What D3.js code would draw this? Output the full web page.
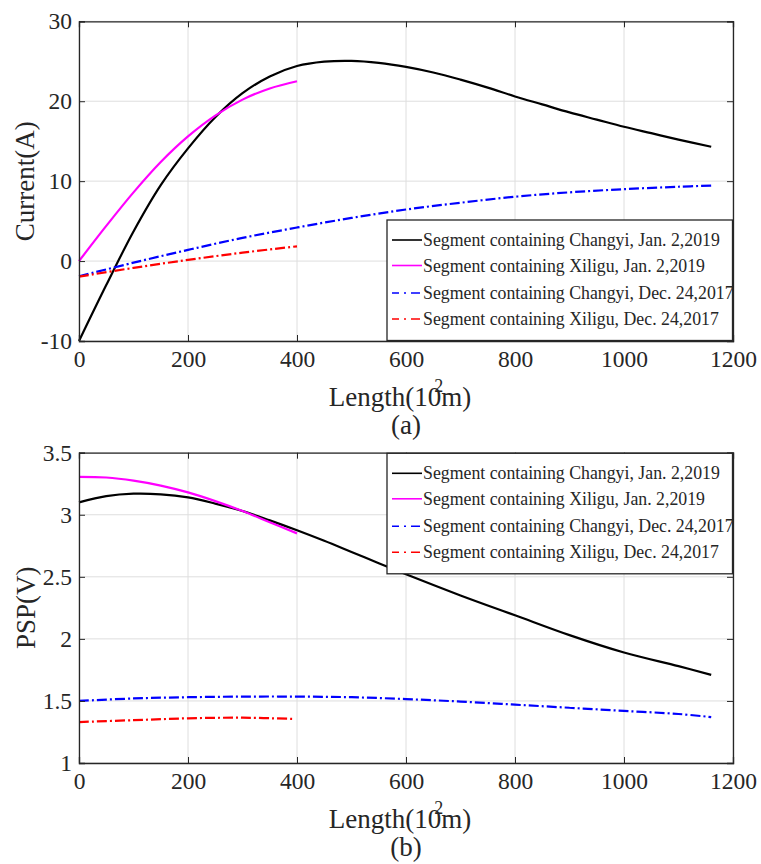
<!DOCTYPE html>
<html lang="en">
<head>
	<meta charset="utf-8">
	<title>Current and PSP along pipeline</title>
	<script type="text/javascript" src="https://cdn.jsdelivr.net/npm/d3@7"></script>
	<style>
		body { margin: 0; background: #fff; }
		svg text { font-family: "Liberation Serif", "Times New Roman", serif; fill: #262626; }
	</style>
</head>
<body>
	<script type="text/javascript">
		var w = 761;
		var h = 864;

		// x ticks shared by both panels
		var xTicks = [0, 200, 400, 600, 800, 1000, 1200];

		// legend names
		var names = ["Segment containing Changyi, Jan. 2,2019",
		             "Segment containing Xiligu, Jan. 2,2019",
		             "Segment containing Changyi, Dec. 24,2017",
		             "Segment containing Xiligu, Dec. 24,2017"];

		// (a) current
		var curTicks = [-10, 0, 10, 20, 30];
		var curChangyi19X = [0, 50, 100, 150, 200, 250, 300, 350, 400, 450, 500, 550, 600, 650, 700, 750, 800, 850, 900, 950, 1000, 1050, 1100, 1160];
		var curChangyi19 = [-10, -3.0, 3.7, 9.5, 14.1, 18.0, 21.0, 23.1, 24.4, 24.95, 25.05, 24.8, 24.3, 23.6, 22.7, 21.7, 20.6, 19.6, 18.6, 17.7, 16.8, 16.0, 15.2, 14.3];
		var curXiligu19X = [0, 50, 100, 150, 200, 250, 300, 350, 400];
		var curXiligu19 = [0, 4.4, 8.6, 12.4, 15.6, 18.2, 20.2, 21.6, 22.5];
		var curChangyi17X = [0, 100, 200, 300, 400, 500, 600, 700, 800, 900, 1000, 1100, 1160];
		var curChangyi17 = [-1.9, -0.2, 1.4, 2.9, 4.2, 5.4, 6.45, 7.3, 8.05, 8.6, 9.0, 9.3, 9.45];
		var curXiligu17X = [0, 100, 200, 300, 400];
		var curXiligu17 = [-1.95, -0.85, 0.15, 1.05, 1.85];

		// (b) PSP
		var pspTicks = [1, 1.5, 2, 2.5, 3, 3.5];
		var pspChangyi19X = [0, 50, 100, 150, 200, 250, 300, 350, 400, 450, 500, 550, 600, 700, 800, 900, 1000, 1100, 1160];
		var pspChangyi19 = [3.10, 3.15, 3.17, 3.165, 3.14, 3.09, 3.03, 2.955, 2.875, 2.79, 2.70, 2.61, 2.52, 2.35, 2.19, 2.03, 1.89, 1.78, 1.71];
		var pspXiligu19X = [0, 50, 100, 150, 200, 250, 300, 350, 400];
		var pspXiligu19 = [3.305, 3.30, 3.275, 3.235, 3.18, 3.11, 3.03, 2.94, 2.85];
		var pspChangyi17X = [0, 100, 200, 300, 400, 500, 600, 700, 800, 900, 1000, 1100, 1160];
		var pspChangyi17 = [1.50, 1.52, 1.53, 1.535, 1.535, 1.53, 1.515, 1.495, 1.47, 1.445, 1.42, 1.395, 1.37];
		var pspXiligu17X = [0, 100, 200, 300, 395];
		var pspXiligu17 = [1.33, 1.345, 1.36, 1.365, 1.355];

		var colors = ["#000000", "#ff00ff", "#0000ff", "#ff0000"];
		var dashes = [null, null, "10,3,2,3", "10,3,2,3"];
		var legendDash = [null, null, "7,5,2,5,9", "7,5,2,5,9"];

		function zipXY(xs, ys) {
			return xs.map(function(x, i) { return [x, ys[i]]; });
		}

		var svg = d3.select("body")
					.append("svg")
					.attr("width", w)
					.attr("height", h);

		svg.append("rect").attr("width", w).attr("height", h).attr("fill", "white");

		var left = 79, right = 733;
		var serif = "'Liberation Serif', 'Times New Roman', serif";

		var drawPanel = function(cfg) {
			var x = d3.scaleLinear().domain([0, 1200]).range([left, right]);
			var y = d3.scaleLinear().domain(cfg.yDomain).range([cfg.bottom, cfg.top]);
			var g = svg.append("g");

			// grid
			g.selectAll(".vgrid").data(xTicks).enter().append("line")
			 .attr("x1", function(d) { return x(d); }).attr("x2", function(d) { return x(d); })
			 .attr("y1", cfg.top).attr("y2", cfg.bottom)
			 .attr("stroke", "#dedede").attr("stroke-width", 1);
			g.selectAll(".hgrid").data(cfg.yTicks).enter().append("line")
			 .attr("x1", left).attr("x2", right)
			 .attr("y1", function(d) { return y(d); }).attr("y2", function(d) { return y(d); })
			 .attr("stroke", "#dedede").attr("stroke-width", 1);

			// curves
			var line = d3.line()
						 .x(function(d) { return x(d[0]); })
						 .y(function(d) { return y(d[1]); })
						 .curve(d3.curveCatmullRom.alpha(0.5));
			cfg.series.forEach(function(s, i) {
				g.append("path")
				 .datum(s)
				 .attr("d", line)
				 .attr("fill", "none")
				 .attr("stroke", colors[i])
				 .attr("stroke-width", 2.2)
				 .attr("stroke-dasharray", dashes[i]);
			});

			// axes with inward ticks, box on
			var fmt = function(d) { return String(d); };
			var xb = g.append("g").attr("transform", "translate(0," + cfg.bottom + ")")
					  .call(d3.axisBottom(x).tickValues(xTicks).tickSize(-6).tickPadding(9).tickFormat(fmt));
			var xt = g.append("g").attr("transform", "translate(0," + cfg.top + ")")
					  .call(d3.axisTop(x).tickValues(xTicks).tickSize(-6).tickFormat(""));
			var yl = g.append("g").attr("transform", "translate(" + left + ",0)")
					  .call(d3.axisLeft(y).tickValues(cfg.yTicks).tickSize(-6).tickPadding(7).tickFormat(fmt));
			var yr = g.append("g").attr("transform", "translate(" + right + ",0)")
					  .call(d3.axisRight(y).tickValues(cfg.yTicks).tickSize(-6).tickFormat(""));
			[xb, xt, yl, yr].forEach(function(a) {
				a.attr("font-family", serif).attr("font-size", 23.5);
				a.select(".domain").attr("stroke", "#262626").attr("stroke-width", 1.3);
				a.selectAll(".tick line").attr("stroke", "#262626").attr("stroke-width", 1);
				a.selectAll(".tick text").attr("fill", "#262626");
			});
			xb.selectAll(".tick text").attr("dy", "0.71em");

			// axis labels
			var xl = g.append("text")
					  .attr("x", (left + right) / 2 - 6).attr("y", cfg.bottom + 65)
					  .attr("text-anchor", "middle").style("font-size", "27px");
			xl.append("tspan").text("Length(10");
			xl.append("tspan").attr("dx", -7).attr("dy", -14).style("font-size", "18px").text("2");
			xl.append("tspan").attr("dx", -2).attr("dy", 14).text("m)");

			g.append("text")
			 .attr("transform", "translate(" + cfg.ylabelX + "," + ((cfg.top + cfg.bottom) / 2) + ") rotate(-90)")
			 .attr("text-anchor", "middle").style("font-size", "27px")
			 .text(cfg.ylabel);

			g.append("text")
			 .attr("x", (left + right) / 2).attr("y", cfg.bottom + 93)
			 .attr("text-anchor", "middle").style("font-size", "27px")
			 .text(cfg.tag);

			// legend
			var lg = g.append("g").attr("transform", "translate(387," + cfg.legendTop + ")");
			lg.append("rect")
			  .attr("x", 0).attr("y", 0).attr("width", 345.5).attr("height", 120.5)
			  .attr("fill", "white").attr("stroke", "#262626").attr("stroke-width", 1.3);
			var rowY = [20, 45.5, 73, 99];
			names.forEach(function(n, i) {
				lg.append("line")
				  .attr("x1", 5).attr("x2", 35).attr("y1", rowY[i]).attr("y2", rowY[i])
				  .attr("stroke", colors[i]).attr("stroke-width", 1.6)
				  .attr("stroke-dasharray", legendDash[i]);
				lg.append("text")
				  .attr("x", 36).attr("y", rowY[i] + 6)
				  .style("font-size", "17.8px")
				  .text(n);
			});
		};

		drawPanel({
			top: 21.3, bottom: 341, yDomain: [-10, 30], yTicks: curTicks,
			ylabel: "Current(A)", ylabelX: 34, tag: "(a)", legendTop: 220,
			series: [zipXY(curChangyi19X, curChangyi19), zipXY(curXiligu19X, curXiligu19),
			         zipXY(curChangyi17X, curChangyi17), zipXY(curXiligu17X, curXiligu17)]
		});

		drawPanel({
			top: 452.7, bottom: 763, yDomain: [1, 3.5], yTicks: pspTicks,
			ylabel: "PSP(V)", ylabelX: 35, tag: "(b)", legendTop: 453.3,
			series: [zipXY(pspChangyi19X, pspChangyi19), zipXY(pspXiligu19X, pspXiligu19),
			         zipXY(pspChangyi17X, pspChangyi17), zipXY(pspXiligu17X, pspXiligu17)]
		});
	</script>
</body>
</html>
